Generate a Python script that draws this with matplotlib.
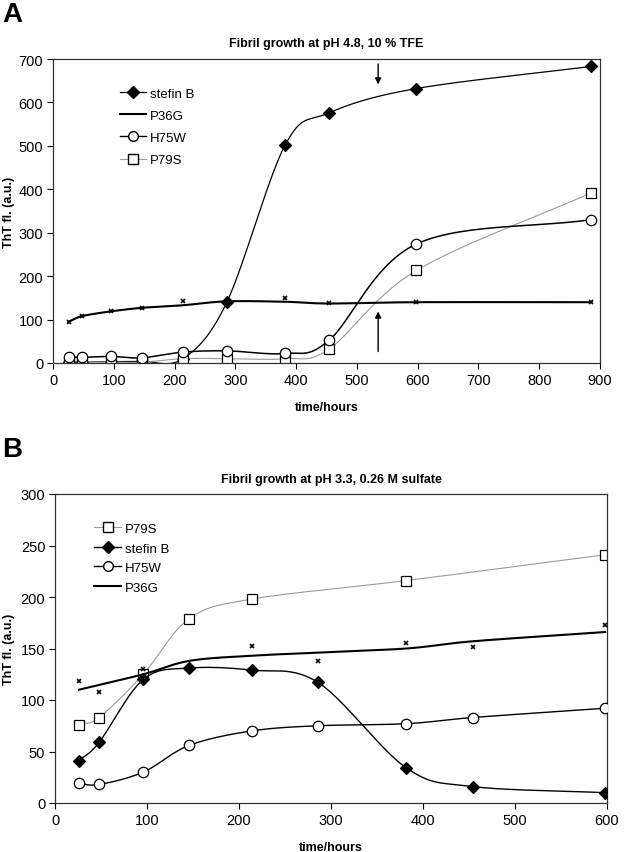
import numpy as np
import matplotlib
matplotlib.use("Agg")
import matplotlib.pyplot as plt
from matplotlib.lines import Line2D

plt.rcParams['font.family'] = ['Liberation Sans', 'DejaVu Sans']

# ---------------- Panel A data ----------------
a_time = [26, 48, 96, 146, 214, 286, 382, 454, 598, 886]
a_stefinB = [2, 3, 3, 4, 10, 140, 502, 576, 632, 683]
a_p36g_pts = [95, 108, 119, 127, 143, 136, 150, 138, 140, 140]
a_p36g_line = [95, 108, 119, 127, 133, 142, 141, 137, 140, 140]
a_h75w = [14, 13, 15, 12, 25, 28, 22, 52, 274, 330]
a_p79s = [3, 3, 2, 2, 10, 10, 10, 32, 213, 392]

# ---------------- Panel B data ----------------
b_time = [26, 48, 96, 146, 214, 286, 382, 454, 598]
b_p79s_time = [26, 48, 96, 146, 214, 382, 598]
b_p79s = [76, 83, 125, 179, 198, 216, 241]
b_stefinB = [41, 59, 120, 131, 129, 117, 34, 16, 10]
b_h75w = [19, 18, 30, 56, 70, 75, 77, 83, 92]
b_p36g_time = [26, 48, 96, 214, 286, 382, 454, 598]
b_p36g_pts = [118, 108, 130, 152, 138, 155, 151, 173]
b_p36g_line_time = [26, 96, 146, 214, 286, 382, 454, 598]
b_p36g_line = [110, 125, 138, 143, 146, 150, 157, 166]


def smooth(x, y, n=30):
    """Catmull-Rom style smoothing (like Excel smoothed lines)."""
    x = np.asarray(x, float)
    y = np.asarray(y, float)
    px = np.concatenate([[2 * x[0] - x[1]], x, [2 * x[-1] - x[-2]]])
    py = np.concatenate([[2 * y[0] - y[1]], y, [2 * y[-1] - y[-2]]])
    xs, ys = [], []
    t = np.linspace(0, 1, n)
    for i in range(1, len(px) - 2):
        p0x, p1x, p2x, p3x = px[i - 1], px[i], px[i + 1], px[i + 2]
        p0y, p1y, p2y, p3y = py[i - 1], py[i], py[i + 1], py[i + 2]
        c1x = p1x + (p2x - p0x) / 6
        c1y = p1y + (p2y - p0y) / 6
        c2x = p2x - (p3x - p1x) / 6
        c2y = p2y - (p3y - p1y) / 6
        bx = (1 - t) ** 3 * p1x + 3 * (1 - t) ** 2 * t * c1x + 3 * (1 - t) * t ** 2 * c2x + t ** 3 * p2x
        by = (1 - t) ** 3 * p1y + 3 * (1 - t) ** 2 * t * c1y + 3 * (1 - t) * t ** 2 * c2y + t ** 3 * p2y
        xs.append(bx)
        ys.append(by)
    return np.concatenate(xs), np.concatenate(ys)


fig = plt.figure(figsize=(6.24, 8.53), dpi=100)
W, H = 624, 853


def add_axes(l, t, r, b):
    return fig.add_axes([l / W, 1 - b / H, (r - l) / W, (b - t) / H])


tick_fs = 10.5
lab_fs = 9
title_fs = 9


def series(ax, x, y, marker, mfc, color, lw, ms, zorder):
    sx, sy = smooth(x, y)
    ax.plot(sx, sy, color=color, lw=lw, zorder=zorder)
    ax.plot(x, y, ls='none', marker=marker, mfc=mfc, mec='black', ms=ms, mew=0.9, zorder=zorder + 0.5)


# ================= Panel A =================
axA = add_axes(53, 60, 600, 364)

series(axA, a_time, a_stefinB, 'D', 'black', 'black', 0.9, 6, 1.5)
series(axA, a_time, a_p79s, 's', 'white', '#9a9a9a', 0.8, 6.5, 2)
series(axA, a_time, a_h75w, 'o', 'white', 'black', 1.1, 7.5, 3)
sx, sy = smooth(a_time, a_p36g_line)
axA.plot(sx, sy, color='black', lw=1.5, zorder=4)
axA.plot(a_time, a_p36g_pts, ls='none', marker='x', color='black', ms=3.5, mew=1.2, zorder=4.5)

axA.set_xlim(0, 900)
axA.set_ylim(0, 700)
axA.set_xticks(range(0, 901, 100))
axA.set_yticks(range(0, 701, 100))
axA.set_xlabel('time/hours', fontsize=lab_fs, fontweight='bold', labelpad=10)
axA.set_ylabel('ThT fl. (a.u.)', fontsize=lab_fs, fontweight='bold')
axA.yaxis.set_label_coords(-38 / 547, 0.5)
axA.set_title('Fibril growth at pH 4.8, 10 % TFE', fontsize=title_fs, fontweight='bold', pad=9)
axA.annotate('', xy=(535, 635), xytext=(535, 695),
             arrowprops=dict(arrowstyle='-|>', color='black', lw=1.0, mutation_scale=9))
axA.annotate('', xy=(535, 125), xytext=(535, 20),
             arrowprops=dict(arrowstyle='-|>', color='black', lw=1.0, mutation_scale=9))

hA = [
    Line2D([], [], color='black', lw=0.9, marker='D', mfc='black', mec='black', ms=6),
    Line2D([], [], color='black', lw=1.5),
    Line2D([], [], color='black', lw=1.0, marker='o', mfc='white', mec='black', ms=7),
    Line2D([], [], color='#9a9a9a', lw=0.8, marker='s', mfc='white', mec='black', ms=6.5),
]
axA.legend(hA, ['stefin B', 'P36G', 'H75W', 'P79S'], loc='upper left',
           bbox_to_anchor=(0.10, 0.945), frameon=False, fontsize=9.5,
           handlelength=2.0, handletextpad=0.3, labelspacing=0.75)

# ================= Panel B =================
axB = add_axes(55, 495, 607, 804)

series(axB, b_p79s_time, b_p79s, 's', 'white', '#9a9a9a', 0.8, 6.5, 2)
series(axB, b_time, b_h75w, 'o', 'white', 'black', 1.0, 7.5, 3)
sx, sy = smooth(b_p36g_line_time, b_p36g_line)
axB.plot(sx, sy, color='black', lw=1.5, zorder=4)
axB.plot(b_p36g_time, b_p36g_pts, ls='none', marker='x', color='black', ms=3.5, mew=1.2, zorder=4.5)
series(axB, b_time, b_stefinB, 'D', 'black', 'black', 1.0, 6, 5)

axB.set_xlim(0, 600)
axB.set_ylim(0, 300)
axB.set_xticks(range(0, 601, 100))
axB.set_yticks(range(0, 301, 50))
axB.set_xlabel('time/hours', fontsize=lab_fs, fontweight='bold', labelpad=10)
axB.set_ylabel('ThT fl. (a.u.)', fontsize=lab_fs, fontweight='bold')
axB.yaxis.set_label_coords(-40 / 552, 0.5)
axB.set_title('Fibril growth at pH 3.3, 0.26 M sulfate', fontsize=title_fs, fontweight='bold', pad=9)

hB = [
    Line2D([], [], color='#9a9a9a', lw=0.8, marker='s', mfc='white', mec='black', ms=6.5),
    Line2D([], [], color='black', lw=1.0, marker='D', mfc='black', mec='black', ms=6),
    Line2D([], [], color='black', lw=1.0, marker='o', mfc='white', mec='black', ms=7),
    Line2D([], [], color='black', lw=1.5),
]
axB.legend(hB, ['P79S', 'stefin B', 'H75W', 'P36G'], loc='upper left',
           bbox_to_anchor=(0.05, 0.945), frameon=False, fontsize=9.5,
           handlelength=2.0, handletextpad=0.3, labelspacing=0.55)

for ax in (axA, axB):
    for sp in ax.spines.values():
        sp.set_linewidth(0.9)
        sp.set_color('#333333')
    ax.tick_params(axis='both', labelsize=tick_fs, direction='out', length=4, width=0.8, pad=3)

fig.text(2 / W, 1 - 15 / H, 'A', fontsize=20, fontweight='bold', va='center', ha='left')
fig.text(2 / W, 1 - 450 / H, 'B', fontsize=20, fontweight='bold', va='center', ha='left')

fig.savefig('out.png', dpi=100)
